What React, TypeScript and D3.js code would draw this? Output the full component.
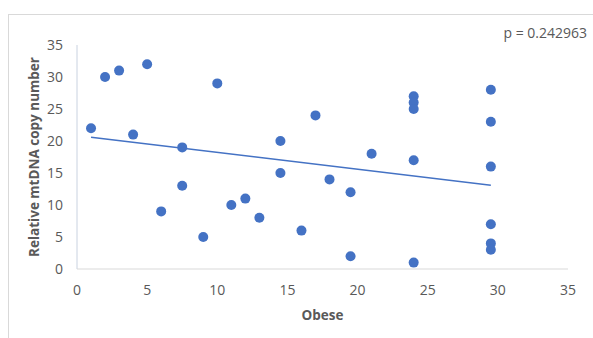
import React from "react";
import * as d3 from "d3";

// Obese group: x value and relative mtDNA copy number per sample
const obese = [1, 2, 3, 4, 5, 6, 7.5, 7.5, 9, 10, 11, 12, 13, 14.5, 14.5, 16, 17, 18, 19.5, 19.5, 21, 24, 24, 24, 24, 24, 29.5, 29.5, 29.5, 29.5, 29.5, 29.5];
const copyNumber = [22, 30, 31, 21, 32, 9, 19, 13, 5, 29, 10, 11, 8, 20, 15, 6, 24, 14, 12, 2, 18, 27, 26, 25, 17, 1, 28, 23, 16, 7, 4, 3];
const xTicks = [0, 5, 10, 15, 20, 25, 30, 35];
const yTicks = [0, 5, 10, 15, 20, 25, 30, 35];
const pLabel = "p = 0.242963";

const W = 593;
const H = 338;
const FONT = "'Open Sans', 'Noto Sans', sans-serif";
const BLUE = "#4472C4";

export default function App() {
  const x = d3.scaleLinear().domain([0, 35]).range([77, 568]);
  const y = d3.scaleLinear().domain([0, 35]).range([269, 45]);

  // least-squares trend line
  const mx = d3.mean(obese)!;
  const my = d3.mean(copyNumber)!;
  let sxy = 0;
  let sxx = 0;
  obese.forEach((v, i) => {
    sxy += (v - mx) * (copyNumber[i] - my);
    sxx += (v - mx) * (v - mx);
  });
  const slope = sxy / sxx;
  const intercept = my - slope * mx;
  const [x0, x1] = d3.extent(obese) as [number, number];
  const trend = d3.line<number>().x((v) => x(v)).y((v) => y(intercept + slope * v));

  return (
    <svg width={W} height={H} style={{ position: "absolute", left: 0, top: 0 }}>
      <rect x={0} y={0} width={W} height={H} fill="#ffffff" />
      <rect x={8.5} y={14.5} width={W} height={H} fill="#ffffff" stroke="#d9d9d9" strokeWidth={1} />
      {/* axes */}
      <line x1={x(0)} x2={x(0)} y1={y(35)} y2={y(0)} stroke="#c9d2e0" strokeWidth={1} />
      <line x1={x(0)} x2={x(35)} y1={y(0)} y2={y(0)} stroke="#d9d9d9" strokeWidth={1} />
      {yTicks.map((t) => (
        <text key={"y" + t} x={63} y={y(t)} dy="0.35em" textAnchor="end" fontFamily={FONT} fontSize={14} fill="#595959">
          {t}
        </text>
      ))}
      {xTicks.map((t) => (
        <text key={"x" + t} x={x(t)} y={290} dy="0.35em" textAnchor="middle" fontFamily={FONT} fontSize={14} fill="#595959">
          {t}
        </text>
      ))}
      <text x={(x(0) + x(35)) / 2} y={315} dy="0.35em" textAnchor="middle" fontFamily={FONT} fontSize={13.5} fontWeight="bold" fill="#595959">
        Obese
      </text>
      <text
        transform={`translate(34,${(y(0) + y(35)) / 2}) rotate(-90)`}
        dy="0.35em"
        textAnchor="middle"
        fontFamily={FONT}
        fontSize={13.5}
        fontWeight="bold"
        fill="#595959"
      >
        Relative mtDNA copy number
      </text>
      {obese.map((v, i) => (
        <circle key={i} cx={x(v)} cy={y(copyNumber[i])} r={5} fill={BLUE} />
      ))}
      <path d={trend([x0, x1])!} fill="none" stroke={BLUE} strokeWidth={1.5} />
      <text x={587} y={33} dy="0.35em" textAnchor="end" fontFamily={FONT} fontSize={14} fill="#595959">
        {pLabel}
      </text>
    </svg>
  );
}
